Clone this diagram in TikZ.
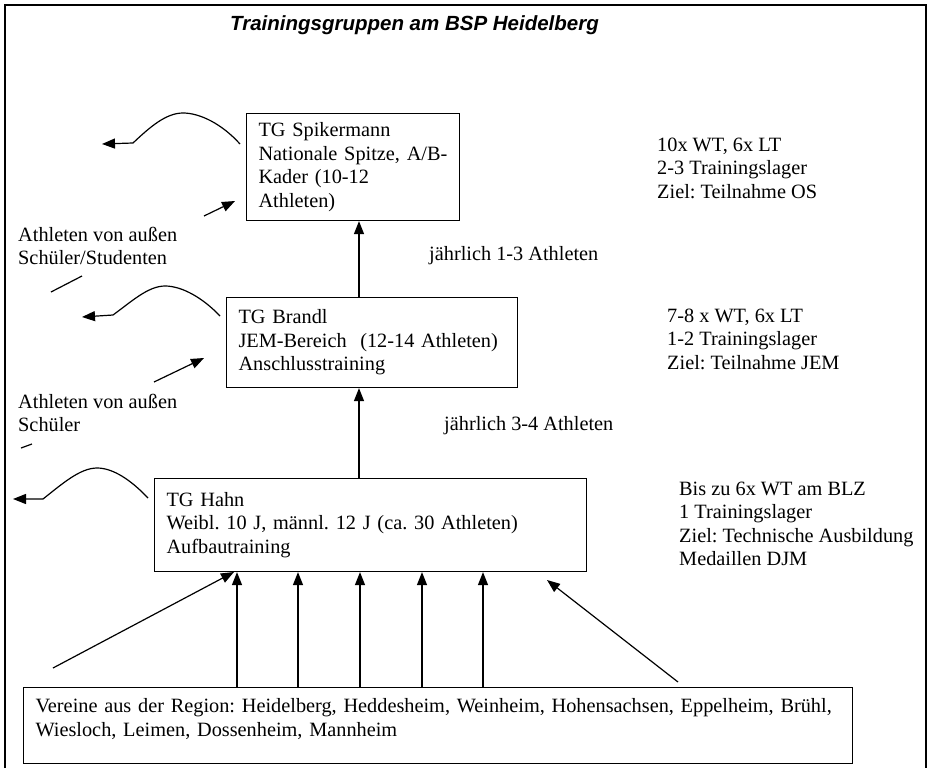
\documentclass[tikz,border=0pt]{standalone}
\usepackage{fontspec}
\setmainfont{Liberation Serif}
\newfontfamily\titlefont{Liberation Sans}
\usetikzlibrary{arrows.meta}
\frenchspacing
\begin{document}
\frenchspacing
\begin{tikzpicture}[x=1pt,y=-1pt,
  txt/.style={font=\fontsize{20.3}{23.5}\selectfont\frenchspacing, inner sep=0pt, align=left, anchor=west},
  box/.style={draw, line width=1.1pt, font=\fontsize{20.3}{23.5}\selectfont\frenchspacing, inner xsep=12pt, inner ysep=0pt, align=left, anchor=north west},
  arr/.style={line width=1.2pt, -{Triangle[length=13pt,width=10pt]}},
  ln/.style={line width=1.2pt}]
\useasboundingbox (0,0) rectangle (931,768);
% frame
\draw[line width=1.8pt] (5,768) -- (5,5) -- (926,5) -- (926,768);
% title
\node[font=\titlefont\bfseries\itshape\fontsize{20.5}{24}\selectfont, inner sep=0pt] (title) at (414.5,25) {Trainingsgruppen am BSP Heidelberg};
% boxes
\node[box, text width=189pt, minimum height=107pt] (spik) at (246,113)
  {\mbox{TG Spikermann}\\\mbox{Nationale Spitze, A/B-}\\\mbox{Kader (10-12}\\\mbox{Athleten)}};
\node[box, text width=267pt, minimum height=90pt] (brandl) at (226,297)
  {\mbox{TG Brandl}\\\mbox{JEM-Bereich\ \ (12-14 Athleten)}\\\mbox{Anschlusstraining}};
\node[box, text width=408pt, minimum height=93pt] (hahn) at (154,478)
  {\mbox{TG Hahn}\\\mbox{Weibl. 10 J, männl. 12 J (ca. 30 Athleten)}\\\mbox{Aufbautraining}};
\node[box, text width=805pt, minimum height=76pt, text depth=40pt] (vereine) at (23,687)
  {\mbox{Vereine aus der Region: Heidelberg, Heddesheim, Weinheim, Hohensachsen, Eppelheim, Brühl,}\\\mbox{Wiesloch, Leimen, Dossenheim, Mannheim}};
% right-hand texts
\node[txt] (r1) at (657,168) {10x WT, 6x LT\\2-3 Trainingslager\\Ziel: Teilnahme OS};
\node[txt] (r2) at (667,339) {7-8 x WT, 6x LT\\1-2 Trainingslager\\Ziel: Teilnahme JEM};
\node[txt] (r3) at (679,524) {Bis zu 6x WT am BLZ\\1 Trainingslager\\Ziel: Technische Ausbildung\\Medaillen DJM};
% middle labels
\node[txt] (j1) at (429,256) {jährlich 1-3 Athleten};
\node[txt] (j2) at (444,426) {jährlich 3-4 Athleten};
% left labels
\node[txt] (l1) at (18,246) {Athleten von außen\\Schüler/Studenten};
\node[txt] (l2) at (18,413) {Athleten von außen\\Schüler};
% vertical connectors
\coordinate (cx) at (359,0);
\draw[arr] (brandl.north -| cx) -- (spik.south -| cx);
\draw[arr] (hahn.north -| cx) -- (brandl.south -| cx);
\foreach \i/\x in {1/237,2/298,3/360,4/422,5/483}{
  \coordinate (v\i) at (\x,0);
  \draw[arr] (vereine.north -| v\i) -- (hahn.south -| v\i);
}
% diagonal arrows into Hahn
\coordinate (dl0) at (53,668);
\coordinate (dl1) at (234,572);
\draw[arr] (dl0) -- (dl1);
\coordinate (dr0) at (678,682);
\coordinate (dr1) at (547,580);
\draw[arr] (dr0) -- (dr1);
% small incoming arrows
\coordinate (is0) at (204,216);
\coordinate (is1) at (235,201);
\draw[arr] (is0) -- (is1);
\coordinate (ib0) at (154,382);
\coordinate (ib1) at (204,358);
\draw[arr] (ib0) -- (ib1);
% curved outgoing arrows
\coordinate (sS) at (240,144); \coordinate (sP) at (183,113);
\coordinate (sE) at (133,143); \coordinate (sT) at (102,144);
\draw[arr] (sS) .. controls (222,124) and (200,113) .. (sP)
  .. controls (166,113) and (150,127) .. (sE) -- (sT);
\coordinate (bS) at (220,316); \coordinate (bP) at (165,286);
\coordinate (bE) at (113,315); \coordinate (bT) at (82,317);
\draw[arr] (bS) .. controls (203,298) and (182,286) .. (bP)
  .. controls (148,286) and (131,302) .. (bE) -- (bT);
\coordinate (hS) at (148,498); \coordinate (hP) at (97,468);
\coordinate (hE) at (43,499); \coordinate (hT) at (13,499);
\draw[arr] (hS) .. controls (131,480) and (113,468) .. (hP)
  .. controls (80,468) and (62,484) .. (hE) -- (hT);
% short dashes
\coordinate (d1a) at (51,292); \coordinate (d1b) at (82,276);
\draw[ln] (d1a) -- (d1b);
\coordinate (d2a) at (21,448); \coordinate (d2b) at (32,444);
\draw[ln] (d2a) -- (d2b);
\end{tikzpicture}
\end{document}
